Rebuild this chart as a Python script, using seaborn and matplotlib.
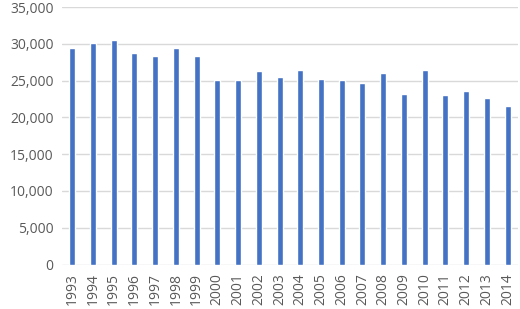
import pandas as pd
import seaborn as sns
import matplotlib.pyplot as plt
from matplotlib.ticker import FuncFormatter

# values
years = [str(y) for y in range(1993, 2015)]
values = [29400, 30100, 30500, 28800, 28300, 29400, 28300, 25050, 25050, 26300,
          25500, 26450, 25200, 25050, 24700, 26100, 23150, 26450, 23000, 23650,
          22650, 21600]

df = pd.DataFrame({'year': years, 'value': values})

sns.set_style("white")
plt.rcParams['font.family'] = ['Open Sans', 'DejaVu Sans']

fig = plt.figure(figsize=(5.2, 3.09), dpi=100)
ax = fig.add_axes([0.119, 0.144, 0.877, 0.833])

sns.barplot(data=df, x='year', y='value', color='#4472C4', saturation=1,
            width=0.29, ax=ax, zorder=3)

ax.set_ylim(0, 35000)
ax.set_yticks(range(0, 35001, 5000))
ax.yaxis.set_major_formatter(FuncFormatter(lambda v, p: f'{int(v):,}'))
ax.set_xlim(-0.5, len(years) - 0.5)
ax.grid(axis='y', color='#D9D9D9', linewidth=1, zorder=0)
ax.set_axisbelow(True)
for s in ax.spines.values():
    s.set_visible(False)
ax.tick_params(axis='both', length=0, colors='#595959', labelsize=10)
ax.tick_params(axis='x', rotation=90, pad=6)
ax.tick_params(axis='y', pad=6)
ax.set_xlabel('')
ax.set_ylabel('')

fig.savefig('out.png', dpi=100)
